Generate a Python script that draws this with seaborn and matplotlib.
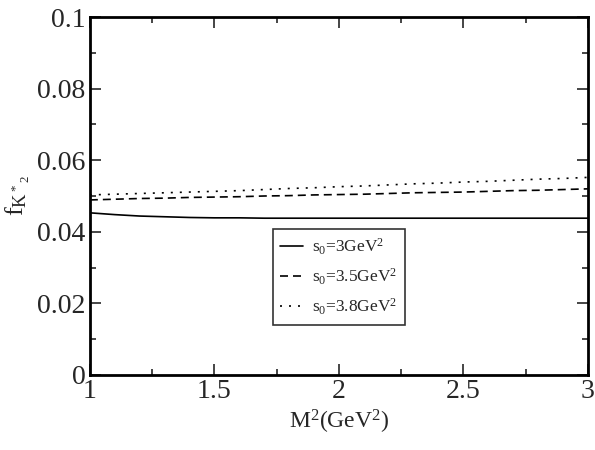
import matplotlib
matplotlib.use("Agg")
import matplotlib.pyplot as plt
import seaborn as sns
import pandas as pd
from matplotlib.ticker import MultipleLocator

# Data
M2 = [1.0, 1.1, 1.2, 1.3, 1.4, 1.5, 1.6, 1.7, 1.8, 1.9, 2.0,
      2.1, 2.2, 2.3, 2.4, 2.5, 2.6, 2.7, 2.8, 2.9, 3.0]
f_s0_3 = [0.0453, 0.0448, 0.0444, 0.0442, 0.0440, 0.0439, 0.0439, 0.0438, 0.0438, 0.0438, 0.0438,
          0.0438, 0.0438, 0.0438, 0.0438, 0.0438, 0.0438, 0.0438, 0.0438, 0.0438, 0.0438]
f_s0_35 = [0.0489, 0.0491, 0.0493, 0.0494, 0.0496, 0.0497, 0.0498, 0.0500, 0.0501, 0.0503, 0.0504,
           0.0505, 0.0507, 0.0509, 0.0510, 0.0511, 0.0513, 0.0515, 0.0516, 0.0518, 0.0520]
f_s0_38 = [0.0503, 0.0505, 0.0507, 0.0509, 0.0511, 0.0513, 0.0515, 0.0518, 0.0521, 0.0523, 0.0526,
           0.0528, 0.0531, 0.0534, 0.0536, 0.0539, 0.0541, 0.0544, 0.0547, 0.0549, 0.0552]
labels = [r"$\mathrm{s_0}$=3GeV$^2$", r"$\mathrm{s_0}$=3.5GeV$^2$", r"$\mathrm{s_0}$=3.8GeV$^2$"]
x_ticks = [1, 1.5, 2, 2.5, 3]
y_ticks = [0, 0.02, 0.04, 0.06, 0.08, 0.1]
y_tick_labels = ["0", "0.02", "0.04", "0.06", "0.08", "0.1"]

sns.set_theme(style="ticks")
plt.rcParams["font.family"] = ["Liberation Serif", "DejaVu Serif"]
plt.rcParams["mathtext.fontset"] = "custom"
plt.rcParams["mathtext.rm"] = "Liberation Serif"
plt.rcParams["mathtext.it"] = "Liberation Serif:italic"

fig = plt.figure(figsize=(5.95, 4.5), dpi=100)
ax = fig.add_axes([0.151, 0.1667, 0.837, 0.7955])

styles = ["-", (0, (4.8, 3)), (0, (1.2, 4.2))]
for ys, lab, ls in zip([f_s0_3, f_s0_35, f_s0_38], labels, styles):
    df = pd.DataFrame({"M2": M2, "f": ys})
    sns.lineplot(data=df, x="M2", y="f", ax=ax, color="black", linewidth=1.2,
                 linestyle=ls, label=lab)

ax.set_xlim(1, 3)
ax.set_ylim(0, 0.1)
ax.set_xticks(x_ticks)
ax.set_xticklabels([f"{t:g}" for t in x_ticks])
ax.set_yticks(y_ticks)
ax.set_yticklabels(y_tick_labels)
ax.xaxis.set_minor_locator(MultipleLocator(0.25))
ax.yaxis.set_minor_locator(MultipleLocator(0.01))
ax.tick_params(which="both", direction="in", top=True, right=True, width=1.2)
ax.tick_params(which="major", length=8, labelsize=20, pad=3)
ax.tick_params(which="minor", length=4)
for s in ax.spines.values():
    s.set_linewidth(2)
    s.set_color("black")

ax.set_xlabel(r"M$^2$(GeV$^2$)", fontsize=17, labelpad=3)
ax.set_ylabel(r"$\mathrm{f_{K^*{}_2}}$", fontsize=19, labelpad=4)

leg = ax.legend(loc="upper left", bbox_to_anchor=(0.367, 0.408), borderaxespad=0,
                fontsize=12.5, frameon=True, fancybox=False, edgecolor="black",
                handlelength=1.3, handletextpad=0.5, labelspacing=0.55, borderpad=0.45)
leg.get_frame().set_linewidth(1.2)

fig.savefig("out.png", dpi=100)
